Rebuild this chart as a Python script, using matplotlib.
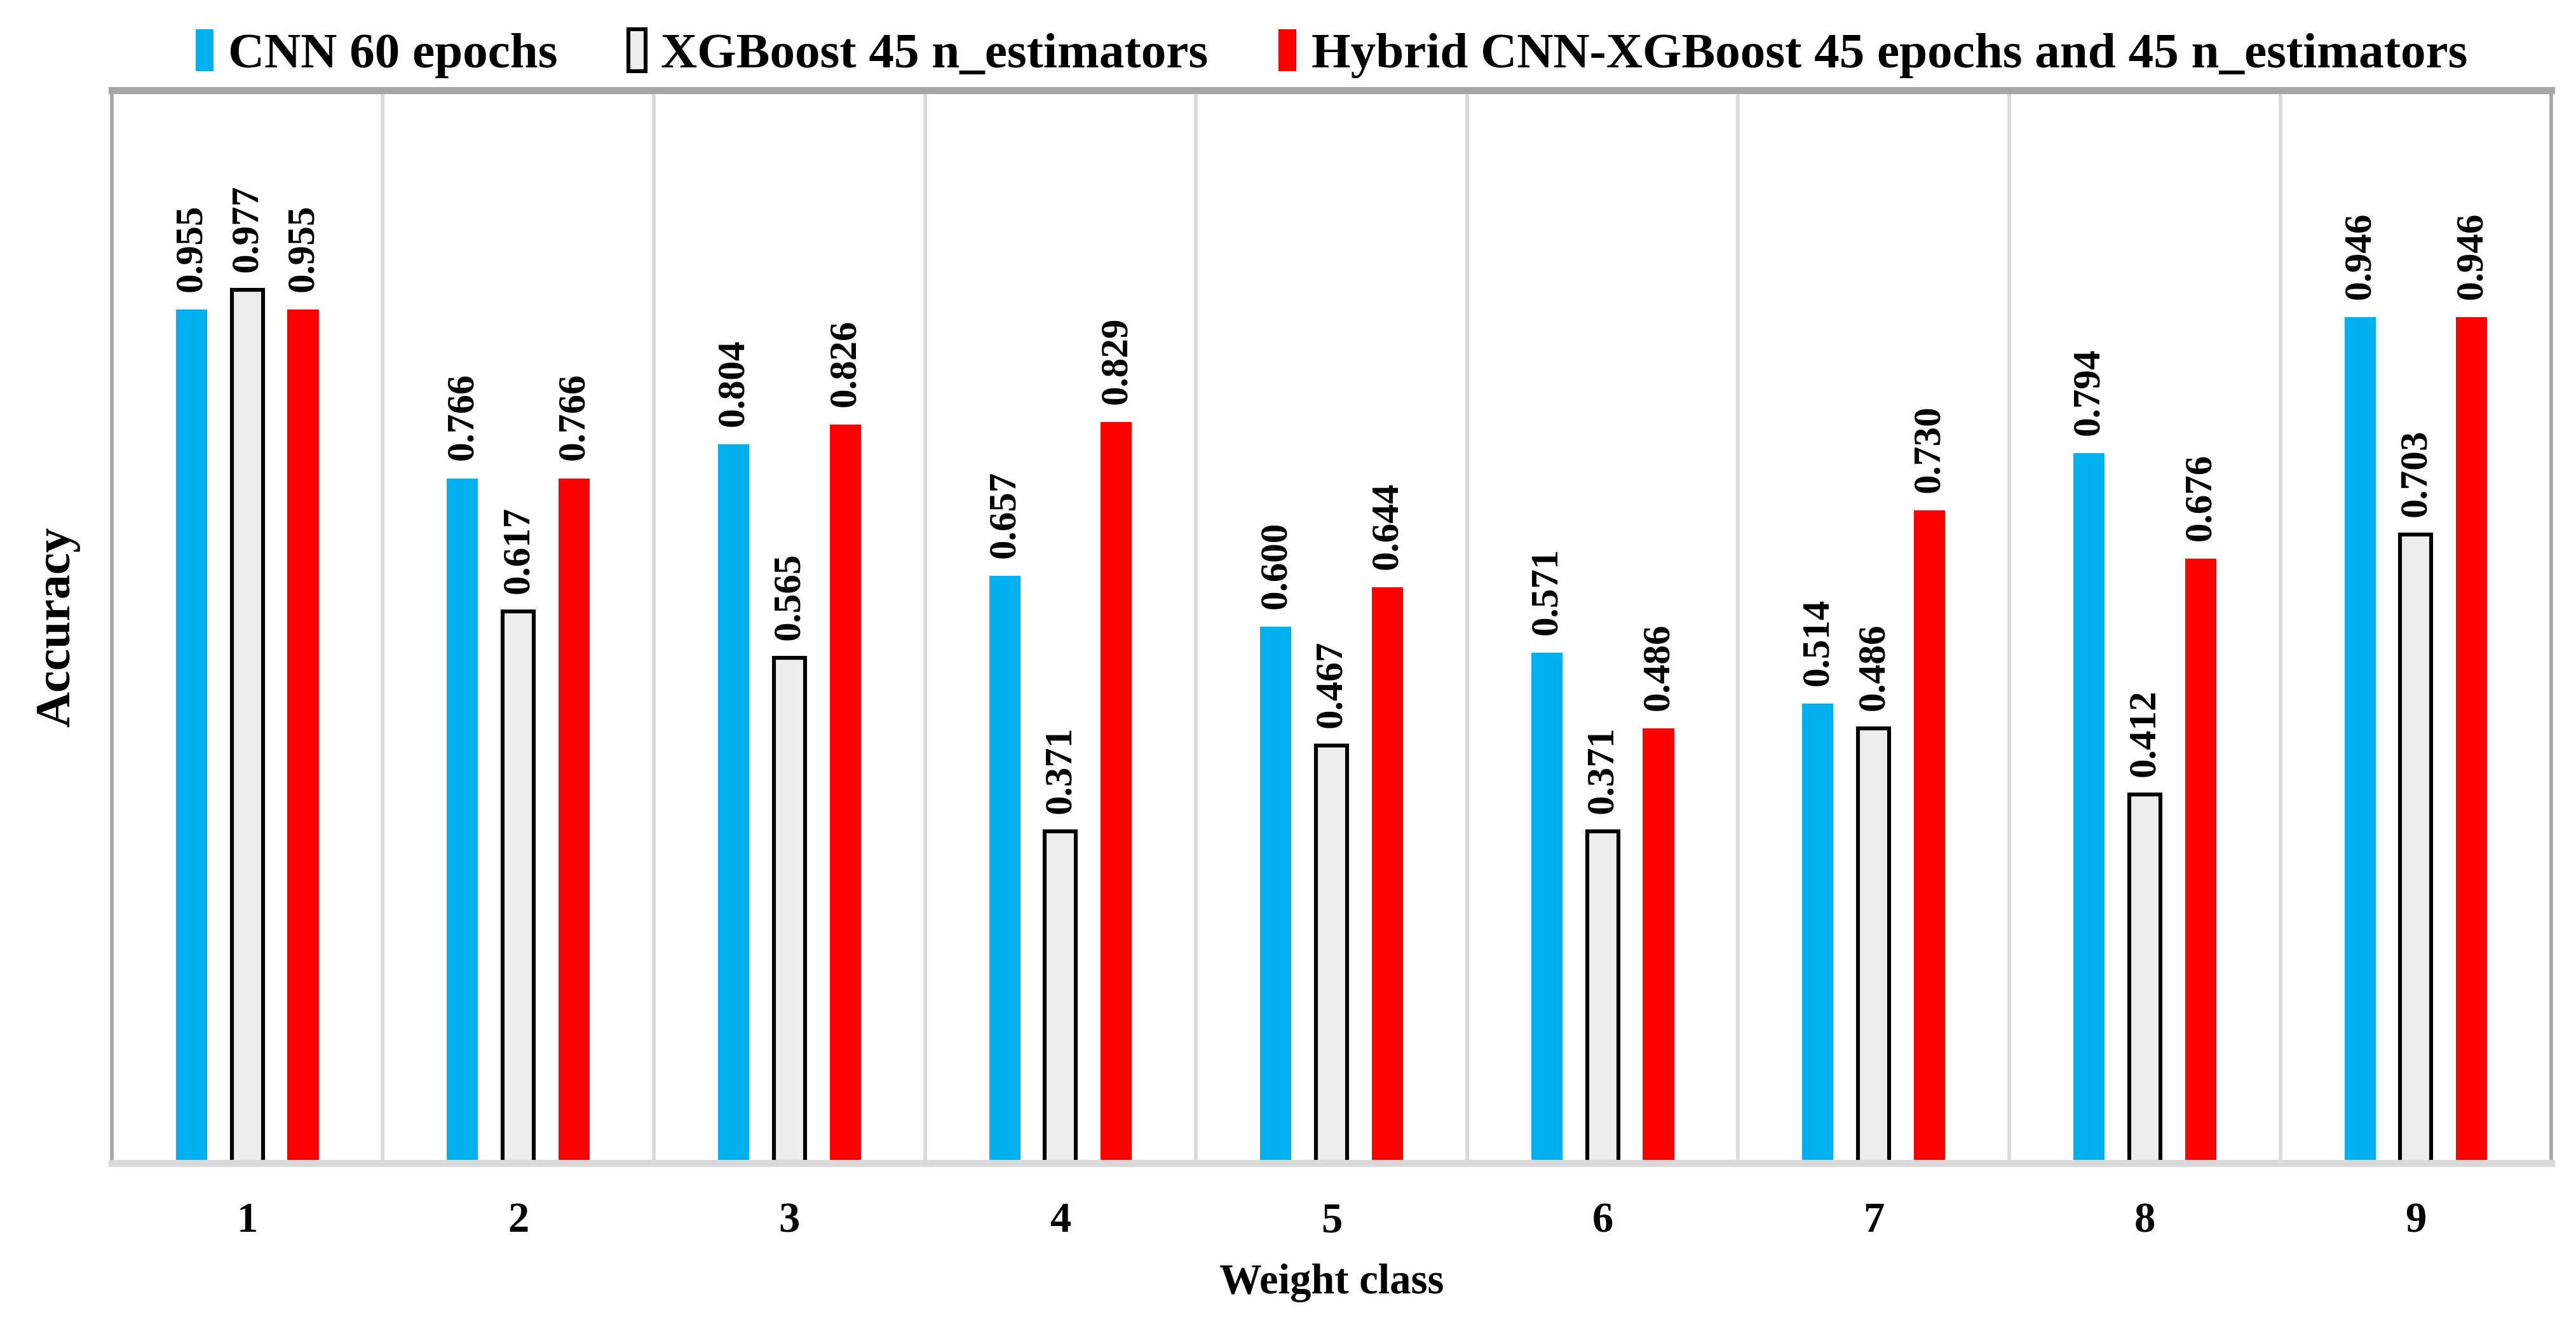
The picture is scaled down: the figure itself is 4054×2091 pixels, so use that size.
import numpy as np
import matplotlib.pyplot as plt

# Données
classes = ["1", "2", "3", "4", "5", "6", "7", "8", "9"]
cnn = [0.955, 0.766, 0.804, 0.657, 0.600, 0.571, 0.514, 0.794, 0.946]
xgb = [0.977, 0.617, 0.565, 0.371, 0.467, 0.371, 0.486, 0.412, 0.703]
hybrid = [0.955, 0.766, 0.826, 0.829, 0.644, 0.486, 0.730, 0.676, 0.946]
noms = ["CNN 60 epochs", "XGBoost 45 n_estimators",
        "Hybrid CNN-XGBoost 45 epochs and 45 n_estimators"]

plt.rcParams['font.family'] = ['Liberation Serif', 'DejaVu Serif']

fig = plt.figure(figsize=(20.27, 10.455), dpi=200)
ax = fig.add_axes([68/1568, 1 - 708/809, (1553-68)/1568, (708-55)/809])

x = np.arange(len(classes))
w = 0.115
dx = 0.206

b1 = ax.bar(x - dx, cnn, w, color="#00b0f0", label=noms[0])
b2 = ax.bar(x, xgb, w, color="#ededed", edgecolor="black", linewidth=2.2, label=noms[1])
b3 = ax.bar(x + dx, hybrid, w, color="#ff0000", label=noms[2])

for bars, vals in [(b1, cnn), (b2, xgb), (b3, hybrid)]:
    for b, v in zip(bars, vals):
        ax.text(b.get_x() + b.get_width()/2, v + 0.02, "%.3f" % v,
                rotation=90, ha="center", va="bottom", fontsize=22, fontweight="bold")

ax.set_xlim(-0.5, len(classes) - 0.5)
ax.set_ylim(0, 1.2)
ax.set_yticks([])
ax.set_xticks(x)
ax.set_xticklabels(classes, fontsize=24, fontweight="bold")
ax.tick_params(axis="x", length=0, pad=22)

# séparations verticales entre les classes
ax.set_xticks(np.arange(len(classes) + 1) - 0.5, minor=True)
ax.tick_params(axis="x", which="minor", length=0)
ax.grid(which="minor", axis="x", color="#d9d9d9", linewidth=2)
ax.set_axisbelow(True)

for s in ["left", "right", "top"]:
    ax.spines[s].set_color("#a6a6a6")
    ax.spines[s].set_linewidth(2)
ax.spines["top"].set_linewidth(4)
ax.spines["bottom"].set_color("#d9d9d9")
ax.spines["bottom"].set_linewidth(4)

ax.set_xlabel("Weight class", fontsize=24, fontweight="bold", labelpad=13)
ax.set_ylabel("Accuracy", fontsize=28, fontweight="bold", labelpad=18)

ax.legend(loc="lower center", bbox_to_anchor=(0.5, 0.99), ncol=3, frameon=False,
          prop={"size": 28.5, "weight": "bold"}, handlelength=0.35, handleheight=0.9,
          handletextpad=0.3, columnspacing=1.4, borderaxespad=0.05)

plt.savefig("out.png", dpi=200)
